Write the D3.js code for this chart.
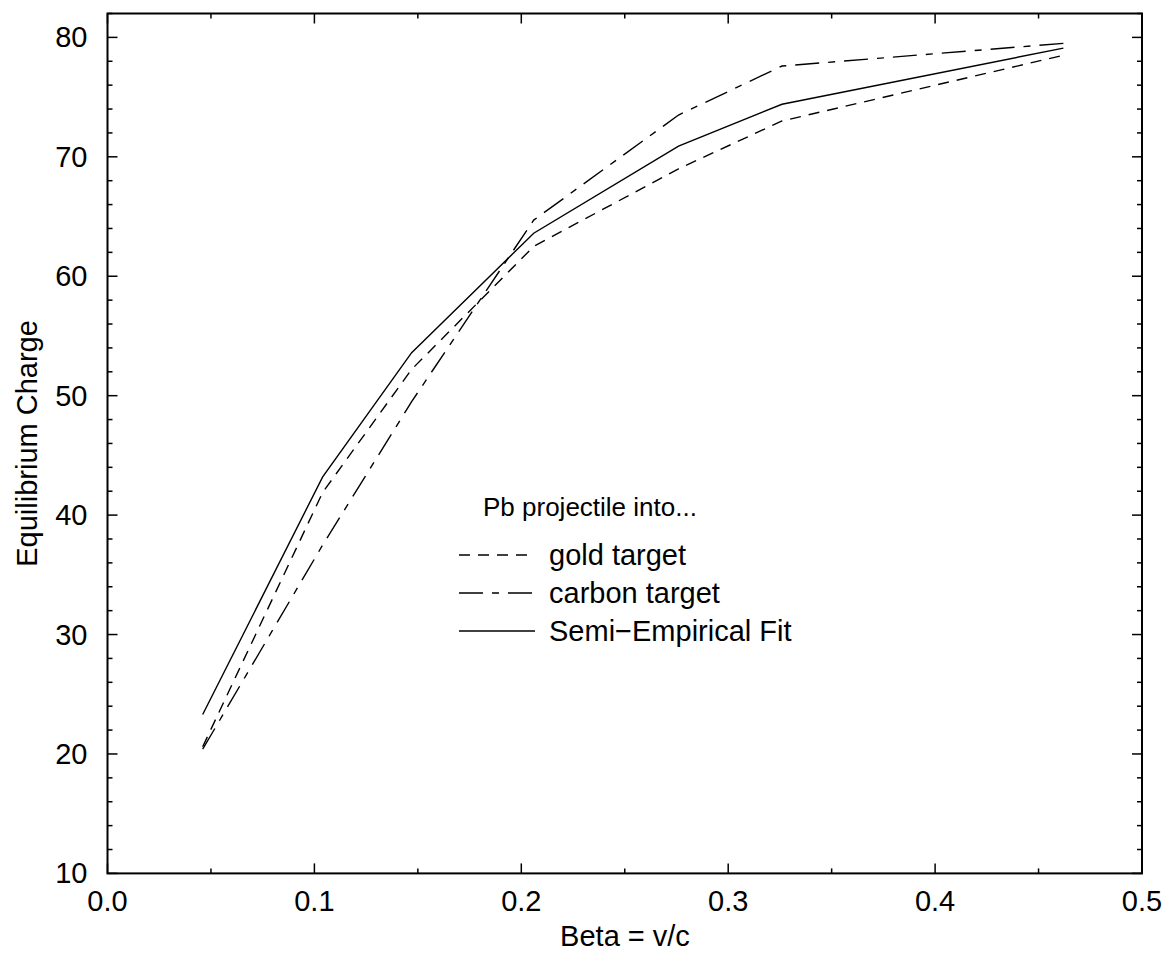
<!DOCTYPE html>
<html>
<head>
<meta charset="utf-8">
<script src="https://cdn.jsdelivr.net/npm/d3@7"></script>
<style>
  html, body { margin: 0; padding: 0; background: #fff; }
  svg { display: block; }
  text { font-family: "Liberation Sans", Arial, Helvetica, sans-serif; fill: #000; }
</style>
</head>
<body>
<svg id="chart" width="1168" height="953"></svg>
<script>
// Equilibrium charge of Pb projectiles versus velocity
const beta = [0.046, 0.104, 0.147, 0.206, 0.276, 0.326, 0.462];
const goldCharge = [20.6, 41.9, 52.2, 62.5, 69.0, 73.0, 78.5];
const carbonCharge = [20.4, 37.5, 49.5, 64.7, 73.5, 77.6, 79.5];
const fitCharge = [23.3, 43.2, 53.6, 63.6, 70.9, 74.4, 79.1];

const seriesNames = ["gold target", "carbon target", "Semi\u2212Empirical Fit"];
const xTickLabels = ["0.0", "0.1", "0.2", "0.3", "0.4", "0.5"];
const yTickLabels = ["10", "20", "30", "40", "50", "60", "70", "80"];

const svg = d3.select("#chart");
const plotLeft = 107.5, plotRight = 1142, plotTop = 13.5, plotBottom = 873.4;

const x = d3.scaleLinear().domain([0, 0.5]).range([plotLeft, plotRight]);
const y = d3.scaleLinear().domain([10, 82]).range([plotBottom, plotTop]);

// ticks: inward, on all four sides
const g = svg.append("g").attr("stroke", "#000").attr("stroke-width", 1.5);
const xMinor = d3.range(0, 0.5001, 0.05);
xMinor.forEach((v, i) => {
  const len = (i % 2 === 0) ? 10 : 5;
  g.append("line").attr("x1", x(v)).attr("x2", x(v)).attr("y1", plotBottom).attr("y2", plotBottom - len);
  g.append("line").attr("x1", x(v)).attr("x2", x(v)).attr("y1", plotTop).attr("y2", plotTop + len);
});
const yMinor = d3.range(10, 82.001, 2);
yMinor.forEach(v => {
  const len = (Math.round(v) % 10 === 0) ? 10 : 5;
  g.append("line").attr("x1", plotLeft).attr("x2", plotLeft + len).attr("y1", y(v)).attr("y2", y(v));
  g.append("line").attr("x1", plotRight).attr("x2", plotRight - len).attr("y1", y(v)).attr("y2", y(v));
});

// frame
svg.append("rect").attr("x", plotLeft).attr("y", plotTop)
  .attr("width", plotRight - plotLeft).attr("height", plotBottom - plotTop)
  .attr("fill", "none").attr("stroke", "#000").attr("stroke-width", 2);

// tick labels
xTickLabels.forEach(t => {
  svg.append("text").attr("x", x(+t)).attr("y", plotBottom + 38)
    .attr("text-anchor", "middle").attr("font-size", 29).text(t);
});
yTickLabels.forEach(t => {
  svg.append("text").attr("x", plotLeft - 20).attr("y", y(+t) + 10)
    .attr("text-anchor", "end").attr("font-size", 29).text(t);
});

// axis titles
svg.append("text").attr("x", 625).attr("y", 946)
  .attr("text-anchor", "middle").attr("font-size", 29).text("Beta = v/c");
svg.append("text").attr("transform", `translate(37,${(plotTop + plotBottom) / 2}) rotate(-90)`)
  .attr("text-anchor", "middle").attr("font-size", 29).text("Equilibrium Charge");

// curves
const dashes = ["11,8", "24,9,7,9", null];
const values = [goldCharge, carbonCharge, fitCharge];
const line = d3.line().x(d => x(d[0])).y(d => y(d[1]));
values.forEach((vals, i) => {
  const p = svg.append("path")
    .datum(beta.map((b, j) => [b, vals[j]]))
    .attr("d", line).attr("fill", "none")
    .attr("stroke", "#000").attr("stroke-width", 1.4);
  if (dashes[i]) p.attr("stroke-dasharray", dashes[i]);
});

// legend
svg.append("text").attr("x", 483).attr("y", 516).attr("font-size", 26).text("Pb projectile into...");
seriesNames.forEach((name, i) => {
  const ly = 555 + i * 38;
  const l = svg.append("line").attr("x1", 459).attr("x2", 535).attr("y1", ly).attr("y2", ly)
    .attr("stroke", "#000").attr("stroke-width", 1.4);
  if (dashes[i]) l.attr("stroke-dasharray", dashes[i]);
  svg.append("text").attr("x", 549).attr("y", ly + 10).attr("font-size", 29).text(name);
});
</script>
</body>
</html>
